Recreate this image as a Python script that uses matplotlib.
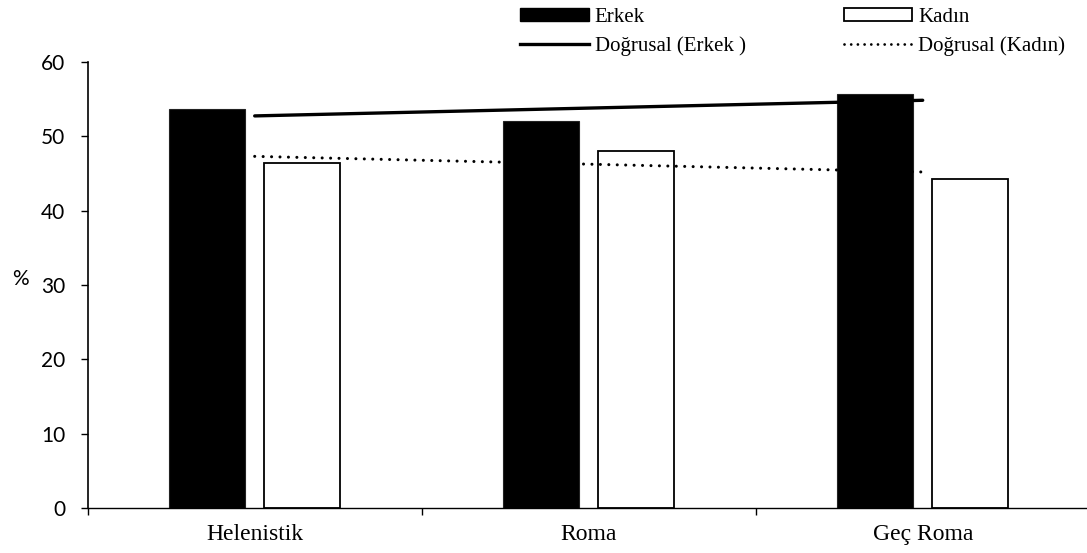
import matplotlib
matplotlib.use("Agg")
import matplotlib.pyplot as plt
import numpy as np
from matplotlib.patches import Patch
from matplotlib.lines import Line2D

categories = ["Helenistik", "Roma", "Geç Roma"]
erkek = [53.6, 52.0, 55.7]
kadin = [46.4, 48.0, 44.3]
yticks = [0, 10, 20, 30, 40, 50, 60]

W, H = 1087, 553
fig = plt.figure(figsize=(W / 100, H / 100), dpi=100)
ax = fig.add_axes([87.7 / W, (H - 508.3) / H, 1002 / W, (508.3 - 61.7) / H])

x = np.arange(len(categories))
bw = 0.227
off = 0.142
ax.bar(x - off, erkek, bw, color="black", edgecolor="#222222", linewidth=0.8, zorder=2)
ax.bar(x + off, kadin, bw, color="white", edgecolor="black", linewidth=1.3, zorder=2)

# linear trendlines (Excel "Doğrusal")
pe = np.polyfit(x, erkek, 1)
pk = np.polyfit(x, kadin, 1)
xt = np.array([x[0], x[-1]], dtype=float)
ax.plot(xt, np.polyval(pe, xt), color="black", lw=2.4, solid_capstyle="round", zorder=3)
ax.plot(xt, np.polyval(pk, xt), color="black", lw=2.2, linestyle=(0, (0.01, 2.75)),
        dash_capstyle="round", zorder=3)

ax.set_xlim(-0.5, 2.5)
ax.set_ylim(0, 60)
ax.set_yticks(yticks)
ax.set_yticklabels([str(v) for v in yticks], fontfamily="Lato", fontsize=15)
ax.tick_params(axis="y", direction="out", length=5, width=1.0, pad=11)

ax.set_xticks([-0.5, 0.5, 1.5, 2.5])
ax.set_xticklabels([])
ax.tick_params(axis="x", which="major", direction="out", length=5, width=1.0)
ax.set_xticks(x, minor=True)
ax.set_xticklabels(categories, minor=True, fontfamily="Liberation Serif", fontsize=17)
ax.tick_params(axis="x", which="minor", length=0, pad=11.5)

for s in ["top", "right"]:
    ax.spines[s].set_visible(False)
ax.spines["left"].set_linewidth(1.2)
ax.spines["bottom"].set_linewidth(1.0)

fig.text(20 / W, 1 - 279 / H, "%", fontfamily="Lato", fontsize=15, ha="center", va="center")

handles = [
    Patch(facecolor="black", edgecolor="black", label="Erkek"),
    Line2D([0], [0], color="black", lw=2.4, label="Doğrusal (Erkek )"),
    Patch(facecolor="white", edgecolor="black", linewidth=1.3, label="Kadın"),
    Line2D([0], [0], color="black", lw=2.0, linestyle=(0, (0.01, 2.4)),
           dash_capstyle="round", label="Doğrusal (Kadın)"),
]
fig.legend(handles=handles, ncol=2, loc="upper left",
           bbox_to_anchor=(520 / W, 1 - 8 / H),
           frameon=False, prop={"family": "Liberation Serif", "size": 15},
           handlelength=3.3, handleheight=0.57, handletextpad=0.29,
           columnspacing=4.7, labelspacing=0.45, borderpad=0, borderaxespad=0)

fig.savefig("out.png", dpi=100, facecolor="white")
